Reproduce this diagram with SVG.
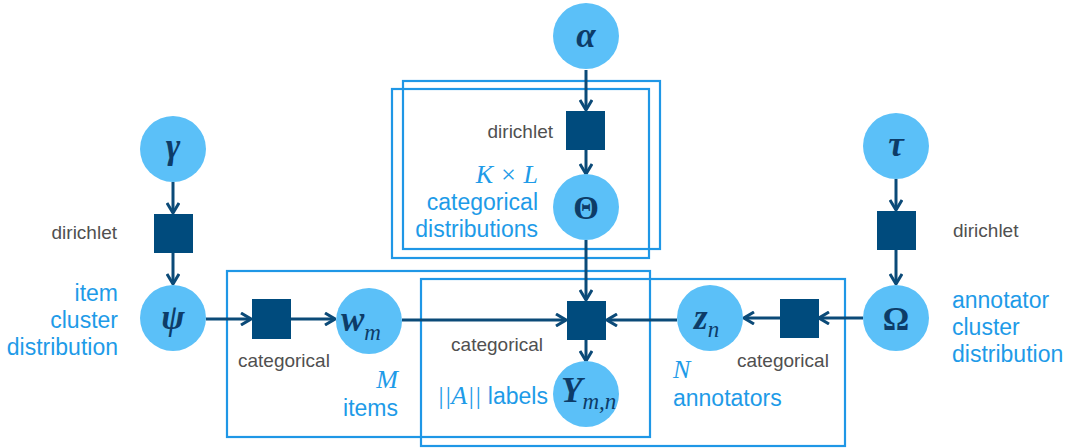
<svg xmlns="http://www.w3.org/2000/svg" width="1066" height="448" viewBox="0 0 1066 448">
  <defs>
    <style>
      .var { fill: #5bc0f8; }
      .fac { fill: #004b7d; }
      .plate { fill: none; stroke: #1f97e6; stroke-width: 2.2; }
      .edge { stroke: #0b4a78; stroke-width: 3; fill: none; }
      .gray { font-family: "Liberation Sans", Arial, sans-serif; font-size: 19px; fill: #505050; }
      .blue { font-family: "Liberation Sans", Arial, sans-serif; font-size: 23px; fill: #1e9be8; }
      .bmath { font-family: "Liberation Serif", "Times New Roman", serif; font-style: italic; font-size: 26px; fill: #1e9be8; }
      .sym { font-family: "Liberation Serif", "DejaVu Serif", serif; font-style: italic; font-weight: bold; font-size: 35px; fill: #0d3c68; }
      .symu { font-family: "Liberation Serif", "DejaVu Serif", serif; font-weight: bold; font-size: 33px; fill: #0d3c68; }
      .sub { font-family: "Liberation Serif", "DejaVu Serif", serif; font-style: italic; font-size: 23px; fill: #0d3c68; }
    </style>
    <marker id="chev" viewBox="0 0 12 14" refX="11" refY="7" markerWidth="12" markerHeight="14" markerUnits="userSpaceOnUse" orient="auto">
      <path d="M1,1 L11,7 L1,13" fill="none" stroke="#0b4a78" stroke-width="3"/>
    </marker>
  </defs>

  <!-- plates -->
  <g id="plates">
    <rect class="plate" x="403" y="81" width="257" height="168"/>
    <rect class="plate" x="392" y="89" width="257" height="169"/>
    <rect class="plate" x="227" y="271" width="423" height="166"/>
    <rect class="plate" x="421" y="279" width="424" height="167"/>
  </g>

  <!-- connectors -->
  <g id="edges">
    <line class="edge" x1="586" y1="70" x2="586" y2="110" marker-end="url(#chev)"/>
    <line class="edge" x1="586" y1="150" x2="586" y2="174" marker-end="url(#chev)"/>
    <line class="edge" x1="586" y1="240" x2="586" y2="300" marker-end="url(#chev)"/>
    <line class="edge" x1="586" y1="340" x2="586" y2="361" marker-end="url(#chev)"/>
    <line class="edge" x1="173" y1="182" x2="173" y2="213" marker-end="url(#chev)"/>
    <line class="edge" x1="173" y1="253" x2="173" y2="284" marker-end="url(#chev)"/>
    <line class="edge" x1="206" y1="319" x2="251" y2="319" marker-end="url(#chev)"/>
    <line class="edge" x1="291" y1="319" x2="335" y2="319" marker-end="url(#chev)"/>
    <line class="edge" x1="402" y1="320" x2="566" y2="320" marker-end="url(#chev)"/>
    <line class="edge" x1="677" y1="320" x2="607" y2="320" marker-end="url(#chev)"/>
    <line class="edge" x1="896" y1="179" x2="896" y2="210" marker-end="url(#chev)"/>
    <line class="edge" x1="896" y1="250" x2="896" y2="284" marker-end="url(#chev)"/>
    <line class="edge" x1="863" y1="318" x2="819" y2="318" marker-end="url(#chev)"/>
    <line class="edge" x1="780" y1="318" x2="744" y2="318" marker-end="url(#chev)"/>
  </g>

  <!-- top: alpha, dirichlet, Theta -->
  <g id="alpha">
    <circle class="var" cx="586" cy="36" r="33"/>
    <text class="sym" x="586" y="47" text-anchor="middle">α</text>
  </g>
  <g id="dirichlet-theta">
    <rect class="fac" x="566" y="111" width="39" height="39"/>
    <text class="gray" x="553" y="138" text-anchor="end">dirichlet</text>
  </g>
  <g id="theta">
    <circle class="var" cx="586" cy="207" r="33"/>
    <text class="symu" x="586" y="219" text-anchor="middle">Θ</text>
    <text class="bmath" x="538" y="183" text-anchor="end">K × L</text>
    <text class="blue" x="538" y="210" text-anchor="end">categorical</text>
    <text class="blue" x="538" y="237" text-anchor="end">distributions</text>
  </g>

  <!-- left: gamma, dirichlet, psi -->
  <g id="gamma">
    <circle class="var" cx="173" cy="149" r="33"/>
    <text class="sym" x="173" y="158" text-anchor="middle">γ</text>
  </g>
  <g id="dirichlet-psi">
    <rect class="fac" x="154" y="214" width="39" height="39"/>
    <text class="gray" x="117" y="239" text-anchor="end">dirichlet</text>
  </g>
  <g id="psi">
    <circle class="var" cx="173" cy="318" r="33"/>
    <text class="sym" x="173" y="329" text-anchor="middle">ψ</text>
    <text class="blue" x="118" y="301" text-anchor="end">item</text>
    <text class="blue" x="118" y="328" text-anchor="end">cluster</text>
    <text class="blue" x="118" y="355" text-anchor="end">distribution</text>
  </g>

  <!-- item plate: categorical, w_m -->
  <g id="categorical-w">
    <rect class="fac" x="252" y="299" width="39" height="40"/>
    <text class="gray" x="238" y="367">categorical</text>
  </g>
  <g id="w">
    <circle class="var" cx="369" cy="321" r="33"/>
    <text x="341" y="331"><tspan class="sym">w</tspan><tspan class="sub" dy="9">m</tspan></text>
    <text class="bmath" x="398" y="388" text-anchor="end">M</text>
    <text class="blue" x="398" y="416" text-anchor="end">items</text>
  </g>

  <!-- label factor and Y -->
  <g id="categorical-y">
    <rect class="fac" x="567" y="301" width="39" height="39"/>
    <text class="gray" x="543" y="351" text-anchor="end">categorical</text>
  </g>
  <g id="y">
    <circle class="var" cx="586" cy="394" r="33"/>
    <text x="561" y="402"><tspan class="sym">Y</tspan><tspan class="sub" dy="7" font-size="20px">m,n</tspan></text>
    <text x="437" y="404"><tspan class="bmath">||A||</tspan><tspan class="blue"> labels</tspan></text>
  </g>

  <!-- right: tau, dirichlet, Omega -->
  <g id="tau">
    <circle class="var" cx="896" cy="146" r="33"/>
    <text class="sym" x="896" y="156" text-anchor="middle">τ</text>
  </g>
  <g id="dirichlet-omega">
    <rect class="fac" x="877" y="211" width="39" height="39"/>
    <text class="gray" x="953" y="237">dirichlet</text>
  </g>
  <g id="omega">
    <circle class="var" cx="896" cy="318" r="33"/>
    <text class="symu" x="896" y="330" text-anchor="middle">Ω</text>
    <text class="blue" x="952" y="308">annotator</text>
    <text class="blue" x="952" y="335">cluster</text>
    <text class="blue" x="952" y="362">distribution</text>
  </g>

  <!-- annotator plate: categorical, z_n -->
  <g id="categorical-z">
    <rect class="fac" x="780" y="299" width="39" height="39"/>
    <text class="gray" x="737" y="367">categorical</text>
  </g>
  <g id="z">
    <circle class="var" cx="710" cy="318" r="33"/>
    <text x="694" y="329"><tspan class="sym">z</tspan><tspan class="sub" dy="8">n</tspan></text>
    <text class="bmath" x="673" y="378">N</text>
    <text class="blue" x="673" y="406">annotators</text>
  </g>
</svg>
